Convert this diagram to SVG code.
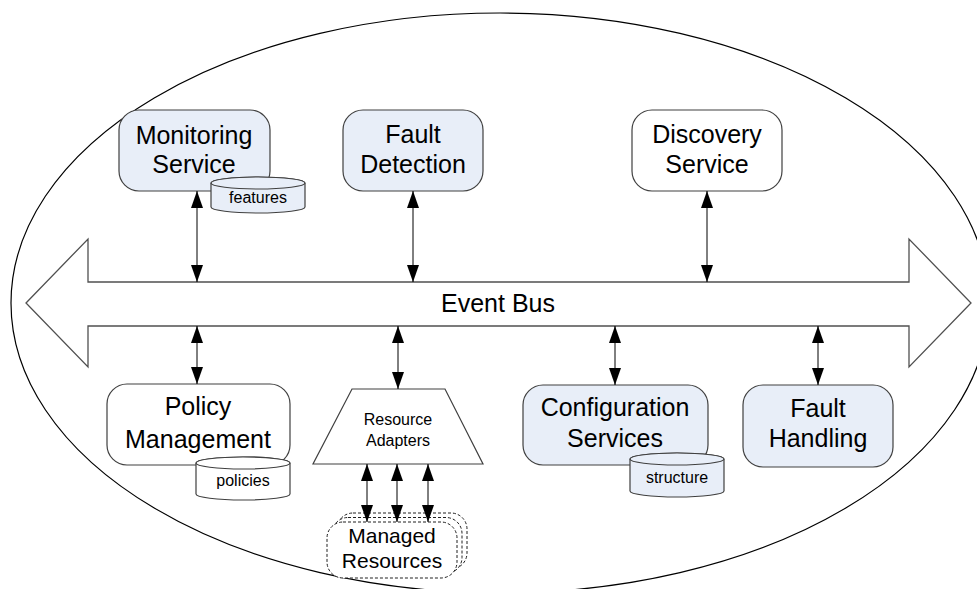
<svg xmlns="http://www.w3.org/2000/svg" width="977" height="589" viewBox="0 0 977 589">
  <style>
    .box { stroke: #404040; stroke-width: 1.2; }
    .blue { fill: #E8EEF8; }
    .white { fill: #FFFFFF; }
    .lbl { font-family: "Liberation Sans", Arial, sans-serif; font-size: 25px; fill: #000; text-anchor: middle; }
    .sm { font-family: "Liberation Sans", Arial, sans-serif; font-size: 16px; fill: #000; text-anchor: middle; }
    .mr { font-family: "Liberation Sans", Arial, sans-serif; font-size: 21px; fill: #000; text-anchor: middle; }
    .link { stroke: #000; stroke-width: 1; fill: none; marker-start: url(#head); marker-end: url(#head); }
    .dash { fill: #FFFFFF; stroke: #202020; stroke-width: 1; stroke-dasharray: 3 2; }
  </style>
  <defs>
    <marker id="head" viewBox="0 0 17 12" refX="17" refY="6" markerWidth="17" markerHeight="12" markerUnits="userSpaceOnUse" orient="auto-start-reverse">
      <path d="M0,0 L17,6 L0,12 Z" fill="#000"/>
    </marker>
  </defs>

  <rect width="977" height="589" fill="#FFFFFF"/>

  <!-- outer boundary -->
  <ellipse cx="500" cy="303" rx="489" ry="290" fill="none" stroke="#000" stroke-width="1.2"/>

  <!-- event bus -->
  <g id="event-bus">
    <path d="M26,303 L88,239 L88,282 L909,282 L909,239 L971,303 L909,367 L909,326 L88,326 L88,367 Z" fill="#FFFFFF" stroke="#505050" stroke-width="1.3"/>
    <text class="lbl" x="498" y="312">Event Bus</text>
  </g>

  <g id="monitoring-service">
    <rect class="box blue" x="119" y="110" width="151" height="81" rx="20"/>
    <text class="lbl" x="194" y="144">Monitoring</text>
    <text class="lbl" x="194" y="173">Service</text>
  </g>
  <g id="features">
    <path class="box blue" d="M211,183 L211,207 A47,6 0 0 0 305,207 L305,183 A47,6 0 0 0 211,183 Z"/>
    <ellipse class="box blue" cx="258" cy="183" rx="47" ry="6"/>
    <text class="sm" x="258" y="203">features</text>
  </g>

  <g id="fault-detection">
    <rect class="box blue" x="343" y="110" width="140" height="81" rx="20"/>
    <text class="lbl" x="413" y="143">Fault</text>
    <text class="lbl" x="413" y="173">Detection</text>
  </g>

  <g id="discovery-service">
    <rect class="box white" x="632" y="110" width="150" height="81" rx="20"/>
    <text class="lbl" x="707" y="143">Discovery</text>
    <text class="lbl" x="707" y="173">Service</text>
  </g>

  <g id="policy-management">
    <rect class="box white" x="107" y="384" width="183" height="81" rx="20"/>
    <text class="lbl" x="198" y="415">Policy</text>
    <text class="lbl" x="198" y="448">Management</text>
  </g>
  <g id="policies">
    <path class="box white" d="M196,463 L196,494 A47,6 0 0 0 290,494 L290,463 A47,6 0 0 0 196,463 Z"/>
    <ellipse class="box white" cx="243" cy="463" rx="47" ry="6"/>
    <text class="sm" x="243" y="486">policies</text>
  </g>

  <g id="resource-adapters">
    <path class="box white" d="M352,389 L445,389 L483,464 L313,464 Z"/>
    <text class="sm" x="398" y="425">Resource</text>
    <text class="sm" x="398" y="446">Adapters</text>
  </g>

  <g id="managed-resources">
    <rect class="dash" x="337" y="513" width="130" height="56" rx="16"/>
    <rect class="dash" x="332" y="517.5" width="130" height="56" rx="16"/>
    <rect class="dash" x="327" y="522" width="130" height="56" rx="16"/>
    <text class="mr" x="392" y="543">Managed</text>
    <text class="mr" x="392" y="568">Resources</text>
  </g>

  <g id="configuration-services">
    <rect class="box blue" x="523" y="385" width="185" height="80" rx="20"/>
    <text class="lbl" x="615" y="416">Configuration</text>
    <text class="lbl" x="615" y="447">Services</text>
  </g>
  <g id="structure">
    <path class="box blue" d="M630,459 L630,491 A47,6 0 0 0 724,491 L724,459 A47,6 0 0 0 630,459 Z"/>
    <ellipse class="box blue" cx="677" cy="459" rx="47" ry="6"/>
    <text class="sm" x="677" y="483">structure</text>
  </g>

  <g id="fault-handling">
    <rect class="box blue" x="743" y="385" width="150" height="82" rx="20"/>
    <text class="lbl" x="818" y="417">Fault</text>
    <text class="lbl" x="818" y="447">Handling</text>
  </g>

  <!-- connectors -->
  <g id="connectors">
    <line class="link" x1="197" y1="191" x2="197" y2="282"/>
    <line class="link" x1="413" y1="191" x2="413" y2="282"/>
    <line class="link" x1="707" y1="191" x2="707" y2="282"/>
    <line class="link" x1="197" y1="326" x2="197" y2="384"/>
    <line class="link" x1="398" y1="326" x2="398" y2="389"/>
    <line class="link" x1="615" y1="326" x2="615" y2="385"/>
    <line class="link" x1="818" y1="326" x2="818" y2="385"/>
    <line class="link" x1="367" y1="464" x2="367" y2="522"/>
    <line class="link" x1="397" y1="464" x2="397" y2="522"/>
    <line class="link" x1="428" y1="464" x2="428" y2="522"/>
  </g>
</svg>
